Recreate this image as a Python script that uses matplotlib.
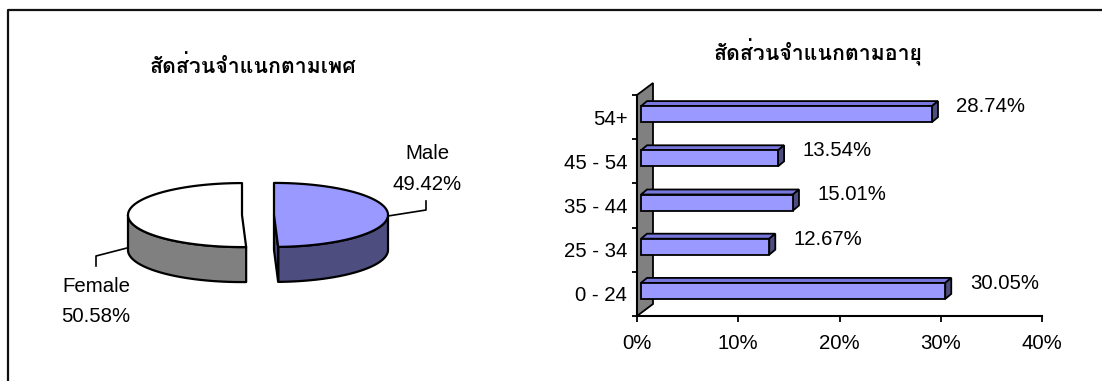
import numpy as np
import matplotlib
matplotlib.use("Agg")
import matplotlib.pyplot as plt
from matplotlib import font_manager
from matplotlib.ft2font import FT2Font
from matplotlib.patches import Polygon, Rectangle
from matplotlib.lines import Line2D

# ---- data ----
gender_labels = ["Male", "Female"]
gender_share = [49.42, 50.58]

age_groups = ["0 - 24", "25 - 34", "35 - 44", "45 - 54", "54+"]
age_share = [30.05, 12.67, 15.01, 13.54, 28.74]

title_gender = "สัดส่วนจำแนกตามเพศ"
title_age = "สัดส่วนจำแนกตามอายุ"
x_ticks = [0, 10, 20, 30, 40]


def find_thai_family():
    seen = set()
    for fe in font_manager.fontManager.ttflist:
        if fe.fname in seen:
            continue
        seen.add(fe.fname)
        try:
            cmap = FT2Font(fe.fname).get_charmap()
        except Exception:
            continue
        if 0x0E2A in cmap and 0x0E33 in cmap and 0x0E14 in cmap:
            return fe.name
    return None


thai = find_thai_family()
title_family = [thai, "DejaVu Sans"] if thai else ["DejaVu Sans"]
plt.rcParams["font.family"] = ["Liberation Sans", "DejaVu Sans"]

W, H = 1102, 381
fig = plt.figure(figsize=(W / 100, H / 100), dpi=100)
fig.patch.set_facecolor("white")

# full-figure overlay in pixel units (y down)
ov = fig.add_axes([0, 0, 1, 1])
ov.set_xlim(0, W)
ov.set_ylim(H, 0)
ov.axis("off")

# outer frame
ov.add_line(Line2D([7.5, 7.5, W + 5], [H + 5, 10, 10], color="#111111", lw=1.6,
                   clip_on=False))

FS = 14.7

# ---- 3D pie ----
cx, cy, ra, rb, depth, explode = 258.0, 215.0, 114.0, 32.0, 35.0, 16.0
top_cols = {"Male": "#9999FF", "Female": "#FFFFFF"}
side_cols = {"Male": "#4D4D80", "Female": "#808080"}


def rim(t, ox, oy, dz=0.0):
    return ox + ra * np.sin(t), oy - rb * np.cos(t) + dz


def shoelace(pts):
    p = np.asarray(pts)
    x, y = p[:, 0], p[:, 1]
    return 0.5 * np.sum(x * np.roll(y, -1) - np.roll(x, -1) * y)


start = 0.0
total = sum(gender_share)
for name, share in zip(gender_labels, gender_share):
    t0 = start
    t1 = start + 2 * np.pi * share / total
    start = t1
    tm = 0.5 * (t0 + t1)
    ox = cx + explode * np.sin(tm)
    oy = cy - explode * np.cos(tm) * rb / ra

    # curved side wall (front half only)
    lo, hi = max(t0, np.pi / 2), min(t1, 3 * np.pi / 2)
    if hi > lo:
        ts = np.linspace(lo, hi, 80)
        upper = [rim(t, ox, oy) for t in ts]
        lower = [rim(t, ox, oy, depth) for t in ts[::-1]]
        ov.add_patch(Polygon(upper + lower, closed=True, fc=side_cols[name],
                             ec="black", lw=1.6, joinstyle="round", zorder=2))

    # cut faces that face the viewer
    c_top, c_bot = (ox, oy), (ox, oy + depth)
    for t, is_end in ((t0, False), (t1, True)):
        r_top, r_bot = rim(t, ox, oy), rim(t, ox, oy, depth)
        quad = [c_top, r_top, r_bot, c_bot] if is_end else [c_bot, r_bot, r_top, c_top]
        if shoelace(quad) > 1.0:
            ov.add_patch(Polygon(quad, closed=True, fc=side_cols[name],
                                 ec="black", lw=1.6, zorder=2))

    # top face
    ts = np.linspace(t0, t1, 160)
    pts = [(ox, oy)] + [rim(t, ox, oy) for t in ts]
    ov.add_patch(Polygon(pts, closed=True, fc=top_cols[name], ec="black",
                         lw=1.6, joinstyle="round", zorder=3))

# pie labels with leader lines
pie_label_pos = {"Male": (427, 152, 183), "Female": (96, 285, 315)}
leaders = {"Male": ([388, 426, 426], [216, 210, 201]),
           "Female": ([127, 96, 96], [248, 256, 266])}
for name, share in zip(gender_labels, gender_share):
    x, y1, y2 = pie_label_pos[name]
    ov.text(x, y1 + 7.3, name, ha="center", va="baseline", fontsize=FS)
    ov.text(x, y2 + 7.3, f"{share:.2f}%", ha="center", va="baseline", fontsize=FS)
    lx, ly = leaders[name]
    ov.add_line(Line2D(lx, ly, color="black", lw=1.2, zorder=4))

# titles
t_left = ov.text(253, 73, title_gender, ha="center", va="baseline",
                 fontsize=14, fontweight="bold", family=title_family)
t_right = ov.text(818, 60, title_age, ha="center", va="baseline",
                  fontsize=14, fontweight="bold", family=title_family)
fig.canvas.draw()
rend = fig.canvas.get_renderer()
wpx = t_left.get_window_extent(rend).width
if wpx > 0:
    size = 14 * 207.0 / wpx
    t_left.set_fontsize(size)
    t_right.set_fontsize(size)

# ---- 3D horizontal bars ----
x0, x1, ytop, ybot = 637, 1042, 95, 316
ax = fig.add_axes([x0 / W, 1 - ybot / H, (x1 - x0) / W, (ybot - ytop) / H])
ax.set_xlim(x_ticks[0], x_ticks[-1])
n = len(age_groups)
ax.set_ylim(-0.5, n - 0.5)
ax.patch.set_visible(False)

sx = (x1 - x0) / (x_ticks[-1] - x_ticks[0])   # px per percent
sy = (ybot - ytop) / n                          # px per category


def dpx(px, py):
    return px / sx, py / sy


wall_dx, wall_dy = dpx(16, 12)
front_dx, front_dy = dpx(4, 3)
bar_dx, bar_dy = dpx(6, 5)
bh = 16 / sy

ax.add_patch(Polygon([(0, -0.5), (wall_dx, -0.5 + wall_dy), (wall_dx, n - 0.5 + wall_dy),
                      (0, n - 0.5)], closed=True, fc="#808080", ec="black", lw=1.3,
                     clip_on=False, zorder=1))

for i, (g, v) in enumerate(zip(age_groups, age_share)):
    yb = i - bh / 2 + front_dy
    yt = i + bh / 2 + front_dy
    xl = front_dx
    xr = v + front_dx
    ax.add_patch(Polygon([(xl, yt), (xr, yt), (xr + bar_dx, yt + bar_dy), (xl + bar_dx, yt + bar_dy)],
                         closed=True, fc="#7777DD", ec="black", lw=1.3, clip_on=False, zorder=3))
    ax.add_patch(Polygon([(xr, yb), (xr + bar_dx, yb + bar_dy), (xr + bar_dx, yt + bar_dy), (xr, yt)],
                         closed=True, fc="#4D4D80", ec="black", lw=1.3, clip_on=False, zorder=3))
    ax.add_patch(Rectangle((xl, yb), v, bh, fc="#9999FF", ec="black", lw=1.3,
                           clip_on=False, zorder=4))
    ax.text(xr + 59 / sx, i + 10.5 / sy, f"{v:.2f}%", ha="center", va="center",
            fontsize=FS, clip_on=False)

for s in ("top", "right"):
    ax.spines[s].set_visible(False)
for s in ("left", "bottom"):
    ax.spines[s].set_linewidth(1.5)
    ax.spines[s].set_zorder(5)

ax.set_xticks(x_ticks)
ax.set_xticklabels([f"{t}%" for t in x_ticks], fontsize=FS)
ax.tick_params(axis="x", direction="out", length=4, width=1.3, pad=9)
ax.set_yticks(np.arange(-0.5, n, 1.0))
ax.set_yticklabels([])
ax.tick_params(axis="y", which="major", direction="out", length=3.5, width=1.3)
ax.set_yticks(np.arange(n), minor=True)
ax.set_yticklabels(age_groups, minor=True, fontsize=FS)
ax.tick_params(axis="y", which="minor", length=0, pad=7)

fig.savefig("out.png", dpi=100)
